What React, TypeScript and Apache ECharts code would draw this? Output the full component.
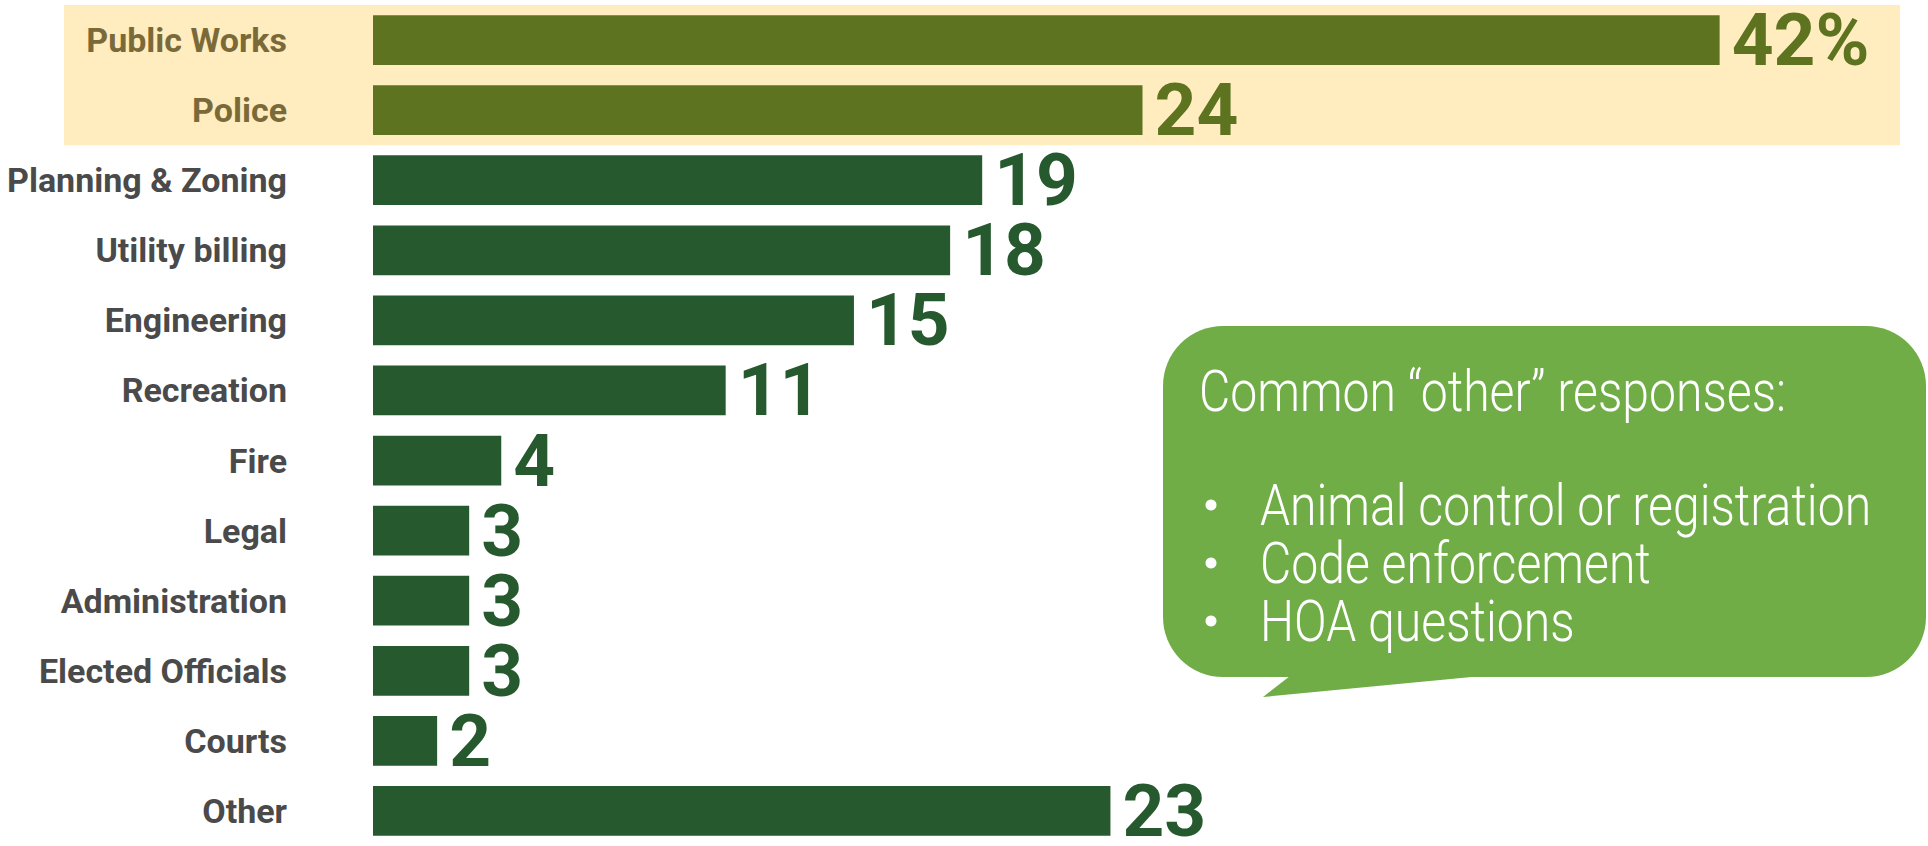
import React, { useEffect, useRef } from 'react';
import * as echarts from 'echarts';

const categories = [
  'Public Works',
  'Police',
  'Planning & Zoning',
  'Utility billing',
  'Engineering',
  'Recreation',
  'Fire',
  'Legal',
  'Administration',
  'Elected Officials',
  'Courts',
  'Other',
];
const values = [42, 24, 19, 18, 15, 11, 4, 3, 3, 3, 2, 23];
const highlighted = ['Public Works', 'Police'];
const percentLabelIndex = 0;
const calloutTitle = 'Common \u201cother\u201d responses:';
const calloutItems = ['Animal control or registration', 'Code enforcement', 'HOA questions'];

const HL_BAR = '#5d7320';
const BAR = '#26592e';
const HL_LABEL = '#7a6a3a';
const LABEL = '#4a4a4a';
const BAND = '#ffedbf';
const CALLOUT = '#70ad47';
const LIGHT = '300 58px Roboto, sans-serif';
const CONDENSE = 0.83;

export default function App() {
  const ref = useRef<HTMLDivElement>(null);

  useEffect(() => {
    if (!ref.current) return;
    const chart = echarts.init(ref.current, undefined, { renderer: 'svg' });

    const data = values.map((v, i) => {
      const hl = highlighted.includes(categories[i]);
      return {
        value: v,
        itemStyle: { color: hl ? HL_BAR : BAR },
        label: { color: hl ? HL_BAR : BAR },
      };
    });

    chart.setOption({
      animation: false,
      backgroundColor: '#ffffff',
      grid: { left: 373, top: 5, width: 1539, height: 846, containLabel: false },
      xAxis: { type: 'value', min: 0, max: 48, show: false },
      yAxis: {
        type: 'category',
        data: categories,
        inverse: true,
        z: 5,
        axisLine: { show: false },
        axisTick: { show: false },
        splitLine: { show: false },
        axisLabel: {
          margin: 86,
          fontFamily: 'Roboto, sans-serif',
          fontWeight: 'bold',
          fontSize: 34,
          color: (value: string) => (highlighted.includes(value) ? HL_LABEL : LABEL),
        },
      },
      series: [
        {
          type: 'bar',
          data,
          barCategoryGap: '29%',
          z: 4,
          label: {
            show: true,
            position: 'right',
            distance: 12,
            fontFamily: 'Roboto, sans-serif',
            fontWeight: 'bold',
            fontSize: 73,
            lineHeight: 56,
            formatter: (p: any) => (p.dataIndex === percentLabelIndex ? p.value + '%' : String(p.value)),
          },
        },
      ],
    });

    const y0 = chart.convertToPixel({ yAxisIndex: 0 }, highlighted[0]) as number;
    const y1 = chart.convertToPixel({ yAxisIndex: 0 }, highlighted[highlighted.length - 1]) as number;
    const pitch = (chart.convertToPixel({ yAxisIndex: 0 }, categories[1]) as number) -
      (chart.convertToPixel({ yAxisIndex: 0 }, categories[0]) as number);
    const bandTop = Math.min(y0, y1) - pitch / 2;
    const bandH = Math.abs(y1 - y0) + pitch;

    const bx = 1163, by = 326, bw = 763, bh = 351;
    const lineY = [505, 563, 621];

    chart.setOption({
      graphic: [
        {
          type: 'rect',
          z: 0,
          shape: { x: 64, y: bandTop, width: 1836, height: bandH },
          style: { fill: BAND },
          silent: true,
        },
        {
          type: 'group',
          z: 10,
          children: [
            {
              type: 'rect',
              shape: { x: bx, y: by, width: bw, height: bh, r: 60 },
              style: { fill: CALLOUT },
            },
            {
              type: 'polygon',
              shape: { points: [[1290, by + bh - 1], [1263, 697], [1482, by + bh - 1]] },
              style: { fill: CALLOUT },
            },
            {
              type: 'text',
              x: 1199,
              y: 391,
              scaleX: CONDENSE,
              style: {
                text: calloutTitle,
                fill: '#ffffff',
                font: LIGHT,
                verticalAlign: 'middle',
                align: 'left',
              },
            },
            ...calloutItems.flatMap((t, i) => [
              {
                type: 'circle',
                shape: { cx: 1211, cy: lineY[i], r: 5.5 },
                style: { fill: '#ffffff' },
              },
              {
                type: 'text',
                x: 1260,
                y: lineY[i],
                scaleX: CONDENSE,
                style: {
                  text: t,
                  fill: '#ffffff',
                  font: LIGHT,
                  verticalAlign: 'middle',
                  align: 'left',
                },
              },
            ]),
          ],
        },
      ],
    });

    return () => chart.dispose();
  }, []);

  return (
    <div
      ref={ref}
      style={{ position: 'absolute', left: 0, top: 0, width: 1928, height: 846 }}
    />
  );
}
